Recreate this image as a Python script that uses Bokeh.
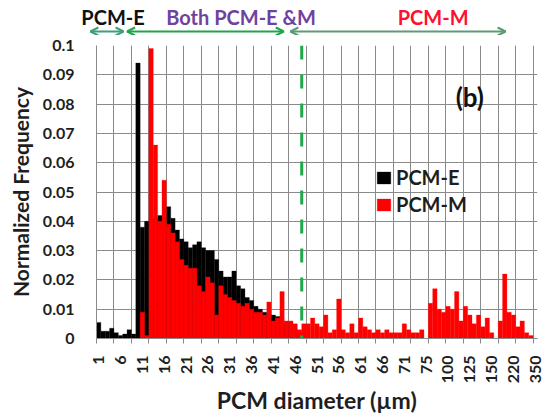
import math
from bokeh.plotting import figure
from bokeh.layouts import column
from bokeh.models import (FixedTicker, Arrow, OpenHead, Label, Span, Legend,
                          LegendItem, ColumnDataSource, Range1d)
from bokeh.embed import file_html
from bokeh.resources import INLINE

# ---- data -------------------------------------------------------------
tick_labels = ["1", "6", "11", "16", "21", "26", "31", "36", "41", "46", "51",
               "56", "61", "66", "71", "75", "100", "125", "150", "220", "350"]

pcm_m = [0, 0, 0, 0, 0, 0, 0, 0, 0, 0,
         0.009, 0.001, 0.099, 0.066, 0.040, 0.054, 0.039, 0.036, 0.033, 0.027,
         0.025, 0.024, 0.024, 0.018, 0.016, 0.021, 0.019, 0.008, 0.018, 0.015,
         0.014, 0.013, 0.012, 0.011, 0.012, 0.010, 0.009, 0.009, 0.008, 0.0125,
         0.006, 0.007, 0.016, 0.006, 0.006, 0.005, 0.003, 0.005, 0.005, 0.007,
         0.005, 0.004, 0.008, 0.002, 0.003, 0.0135, 0.003, 0.002, 0.005, 0.002,
         0.007, 0.004, 0.003, 0.002, 0.003, 0.002, 0.003, 0.002, 0.002, 0.002,
         0.005, 0.003, 0.002, 0.002, 0.003, 0.0, 0.012, 0.017, 0.010, 0.009,
         0.011, 0.010, 0.016, 0.006, 0.011, 0.008, 0.005, 0.008, 0.004, 0.007,
         0.002, 0.0, 0.006, 0.022, 0.009, 0.008, 0.004, 0.006, 0.002, 0.001,
         0.0]

pcm_e = [0.0055, 0.0025, 0.0025, 0.0035, 0.002, 0.001, 0.0015, 0.003, 0.0015, 0.094,
         0.038, 0.040, 0.040, 0.041, 0.042, 0.036, 0.045, 0.041, 0.037, 0.034,
         0.033, 0.031, 0.032, 0.033, 0.031, 0.030, 0.030, 0.027, 0.023, 0.021,
         0.021, 0.023, 0.018, 0.017, 0.014, 0.013, 0.011, 0.010, 0.009, 0.008,
         0.008, 0.0075, 0.006, 0.005, 0.004, 0.003, 0.002] + [0.0] * 54

boundary = 46.5  # PCM-E / PCM-M divider (bin index)

# ---- geometry -----------------------------------------------------------
W, H = 548, 417
TOP_H = 35
LEFT, RIGHT = 96, 11
n = len(pcm_m)
frame_w = W - LEFT - RIGHT
ppu = frame_w / n
x0 = -0.5
FONT = "Lato"
TXT = "#1e1e1e"

# ---- header figure (arrows and region names) ---------------------------
top = figure(width=W, height=TOP_H,
             x_range=Range1d(x0 - LEFT / ppu, x0 + (W - LEFT) / ppu),
             y_range=Range1d(0, TOP_H), x_axis_type=None, y_axis_type=None,
             output_backend="svg", toolbar_location=None,
             min_border_left=0, min_border_right=0, min_border_top=0,
             min_border_bottom=0, frame_align=False)
top.outline_line_color = None
top.xgrid.visible = False
top.ygrid.visible = False

ARROW_Y = TOP_H - 31
def add_arrow(a, b, color):
    top.add_layout(Arrow(x_start=a, y_start=ARROW_Y, x_end=b, y_end=ARROW_Y,
                         line_color=color, line_width=2,
                         start=OpenHead(size=8, line_color=color, line_width=2),
                         end=OpenHead(size=8, line_color=color, line_width=2)))

add_arrow(-1.9, 5.7, "#3f9f7a")
add_arrow(6.5, 42.4, "#22a44e")
add_arrow(43.9, 93.2, "#5e9a74")

def add_label(fig, x, y, text, color, size):
    fig.add_layout(Label(x=x, y=y, text=text, text_align="center",
                         text_baseline="middle", text_font=FONT,
                         text_font_style="bold", text_font_size=size,
                         text_color=color))

LAB_Y = TOP_H - 16
add_label(top, 3.3, LAB_Y, "PCM-E", "#111111", "20px")
add_label(top, 32.6, LAB_Y, "Both PCM-E &M", "#6f42a0", "20px")
add_label(top, 76.6, LAB_Y, "PCM-M", "#ff1030", "20px")

# ---- main figure --------------------------------------------------------
src = ColumnDataSource(dict(x=list(range(n)), e=pcm_e, m=pcm_m))

p = figure(width=W, height=H - TOP_H, x_range=(x0, n - 0.5), y_range=(0, 0.1),
           output_backend="svg", toolbar_location=None,
           min_border_left=LEFT, min_border_right=RIGHT, min_border_top=45 - TOP_H,
           min_border_bottom=79, frame_align=False)
p.outline_line_color = None

r_e = p.vbar(x="x", top="e", width=1.0, source=src, fill_color="black",
             line_color="black", line_width=0.3)
r_m = p.vbar(x="x", top="m", width=1.0, source=src, fill_color="#ff0000",
             line_color="#ff0000", line_width=0.3)

xt = [i * 5 for i in range(len(tick_labels))]
grid_pos = [b - 0.5 for b in range(0, n + 1, 4)]
p.xaxis.ticker = FixedTicker(ticks=xt, minor_ticks=grid_pos)
p.xaxis.major_label_overrides = {t: l for t, l in zip(xt, tick_labels)}
p.xaxis.major_label_orientation = math.pi / 2
p.xaxis.major_tick_out = 0
p.xaxis.major_tick_in = 0
p.xaxis.minor_tick_out = 5
p.xaxis.minor_tick_in = 0
p.xaxis.minor_tick_line_color = "#8a8a8a"
p.xaxis.axis_line_color = "#8a8a8a"
p.xaxis.major_label_standoff = 12
p.xaxis.axis_label = "PCM diameter (µm)"
p.xaxis.axis_label_standoff = 0

yt = [round(i * 0.01, 2) for i in range(11)]
p.yaxis.ticker = FixedTicker(ticks=yt)
p.yaxis.major_label_overrides = {
    t: ("0" if t == 0 else ("0.1" if abs(t - 0.1) < 1e-9 else f"{t:.2f}")) for t in yt}
p.yaxis.major_tick_out = 0
p.yaxis.major_tick_in = 0
p.yaxis.minor_tick_line_color = None
p.yaxis.axis_line_color = "#8a8a8a"
p.yaxis.major_label_standoff = 22
p.yaxis.axis_label = "Normalized Frequency"
p.yaxis.axis_label_standoff = 7

for ax in (p.xaxis, p.yaxis):
    ax.major_label_text_font = FONT
    ax.major_label_text_font_style = "bold"
    ax.major_label_text_font_size = "16px"
    ax.major_label_text_color = TXT
    ax.axis_label_text_font = FONT
    ax.axis_label_text_font_style = "bold"
    ax.axis_label_text_color = TXT
p.xaxis.axis_label_text_font_size = "23px"
p.yaxis.axis_label_text_font_size = "21px"

p.xgrid.ticker = FixedTicker(ticks=grid_pos)
p.ygrid.ticker = FixedTicker(ticks=yt)
for g in (p.xgrid, p.ygrid):
    g.grid_line_color = "#8a8a8a"
    g.grid_line_width = 1

p.add_layout(Span(location=boundary, dimension="height", line_color="#1faa4a",
                  line_width=3, line_dash="14 15"))

add_label(p, 85.0, 0.0823, "(b)", "#111111", "26px")

legend = Legend(items=[LegendItem(label="PCM-E", renderers=[r_e]),
                       LegendItem(label="PCM-M", renderers=[r_m])],
                location=(279, 122), glyph_width=17, glyph_height=15,
                label_height=24, spacing=3, padding=0, margin=0,
                label_standoff=4, border_line_color=None,
                background_fill_alpha=0,
                label_text_font=FONT, label_text_font_style="bold",
                label_text_font_size="20px", label_text_color=TXT)
p.add_layout(legend)

layout = column(top, p, spacing=0)
open("out.html", "w").write(file_html(layout, INLINE))
